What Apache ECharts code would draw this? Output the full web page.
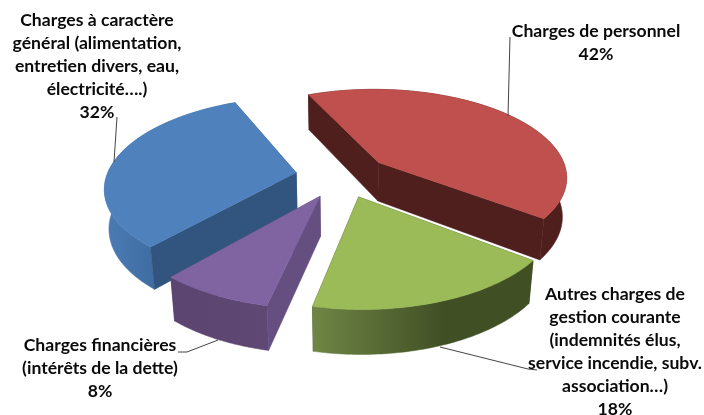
<!DOCTYPE html>
<html>
<head>
<meta charset="utf-8">
<script src="https://cdn.jsdelivr.net/npm/echarts@6/dist/echarts.min.js"></script>
<style>
html,body{margin:0;padding:0;background:#fff}
#chart{width:704px;height:415px}
</style>
</head>
<body>
<div id="chart"></div>
<script>
// ordre horaire, depuis le bord haut de la part rouge
const categories = [
  'Charges de personnel\n42%',
  'Autres charges de\ngestion courante\n(indemnités élus,\nservice incendie, subv.\nassociation…)\n18%',
  'Charges financières\n(intérêts de la dette)\n8%',
  'Charges à caractère\ngénéral (alimentation,\nentretien divers, eau,\nélectricité….)\n32%'
]
const values = [42, 18, 8, 32]
const drawOrder = [3, 0, 2, 1]

const topColors = ['#C0504D', '#9BBB59', '#8064A2', '#4F81BD']
const faceColors = ['#4F1F1E', '#414F24', '#654F80', '#31557E']
const wallStops = [
  [[0, '#4F1F1E'], [1, '#4F1F1E']],
  [[0, '#6E8645'], [0.6, '#414F24'], [1, '#414F24']],
  [[0, '#5C4470'], [1, '#5F4873']],
  [[0, '#4A7CB4'], [0.4, '#3E6CA1'], [1, '#3E6CA1']]
]

// camera: centre, rayon, elevation, perspective
const cam = { cx: 342.029, cy: 175.881, r: 189.48, phi: 0.484, k: 0.173 }
const startAngle = 5.868
const explode = [0.251, 0.245, 0.25, 0.246]
const depth = 0.238

function project (x, y, z) {
  const v = y * Math.sin(cam.phi) + z * Math.cos(cam.phi)
  const w = y * Math.cos(cam.phi) - z * Math.sin(cam.phi)
  const s = 1 / (1 + cam.k * w)
  return [cam.cx + cam.r * x * s, cam.cy - cam.r * v * s]
}

function sliceGeom (i) {
  const total = values.reduce((a, b) => a + b, 0)
  const before = values.slice(0, i).reduce((a, b) => a + b, 0)
  const a0 = startAngle + before / total * Math.PI * 2
  const a1 = a0 + values[i] / total * Math.PI * 2
  const mid = (a0 + a1) / 2
  const ax = explode[i] * Math.sin(mid)
  const ay = explode[i] * Math.cos(mid)
  const top = []
  const bot = []
  for (let j = 0; j <= 60; j++) {
    const t = a0 + (a1 - a0) * j / 60
    top.push(project(ax + Math.sin(t), ay + Math.cos(t), 0))
    bot.push(project(ax + Math.sin(t), ay + Math.cos(t), -depth))
  }
  return { apexT: project(ax, ay, 0), apexB: project(ax, ay, -depth), top, bot }
}

function renderSlice (params, api) {
  const i = api.value(0)
  const g = sliceGeom(i)
  const n = g.top.length - 1
  const poly = (points, fill) => ({ type: 'polygon', shape: { points }, style: { fill, stroke: fill, lineWidth: 0.5 } })
  const grad = new echarts.graphic.LinearGradient(0, 0, 1, 0,
    wallStops[i].map(s => ({ offset: s[0], color: s[1] })))
  return {
    type: 'group',
    children: [
      poly([g.apexT, g.top[n], g.bot[n], g.apexB], faceColors[i]),
      poly(g.top.concat(g.bot.slice().reverse()), grad),
      poly([g.apexT, g.top[0], g.bot[0], g.apexB], faceColors[i]),
      poly([g.apexT].concat(g.top), topColors[i])
    ]
  }
}

const label = (x, y, text) => ({
  type: 'text',
  x,
  y,
  z: 10,
  style: { text, font: 'bold 17.6px Lato', fill: '#0a0a0a', align: 'center', verticalAlign: 'top', lineHeight: 22.9 }
})
const leader = points => ({
  type: 'polyline',
  z: 5,
  shape: { points },
  style: { stroke: '#444', lineWidth: 1, fill: null }
})

const chart = echarts.init(document.getElementById('chart'))
chart.setOption({
  animation: false,
  backgroundColor: '#fff',
  graphic: [
    leader([[510, 37], [508, 116]]),
    leader([[117, 117], [114, 162]]),
    leader([[440, 347], [528, 369], [537, 370]]),
    leader([[178, 352], [187, 352], [218, 340]]),
    label(596, 20, categories[0]),
    label(615, 283, categories[1]),
    label(100, 334, categories[2]),
    label(97, 9, categories[3])
  ],
  series: [{
    type: 'custom',
    coordinateSystem: 'none',
    silent: true,
    renderItem: renderSlice,
    data: drawOrder.map(i => [i])
  }]
})
</script>
</body>
</html>
